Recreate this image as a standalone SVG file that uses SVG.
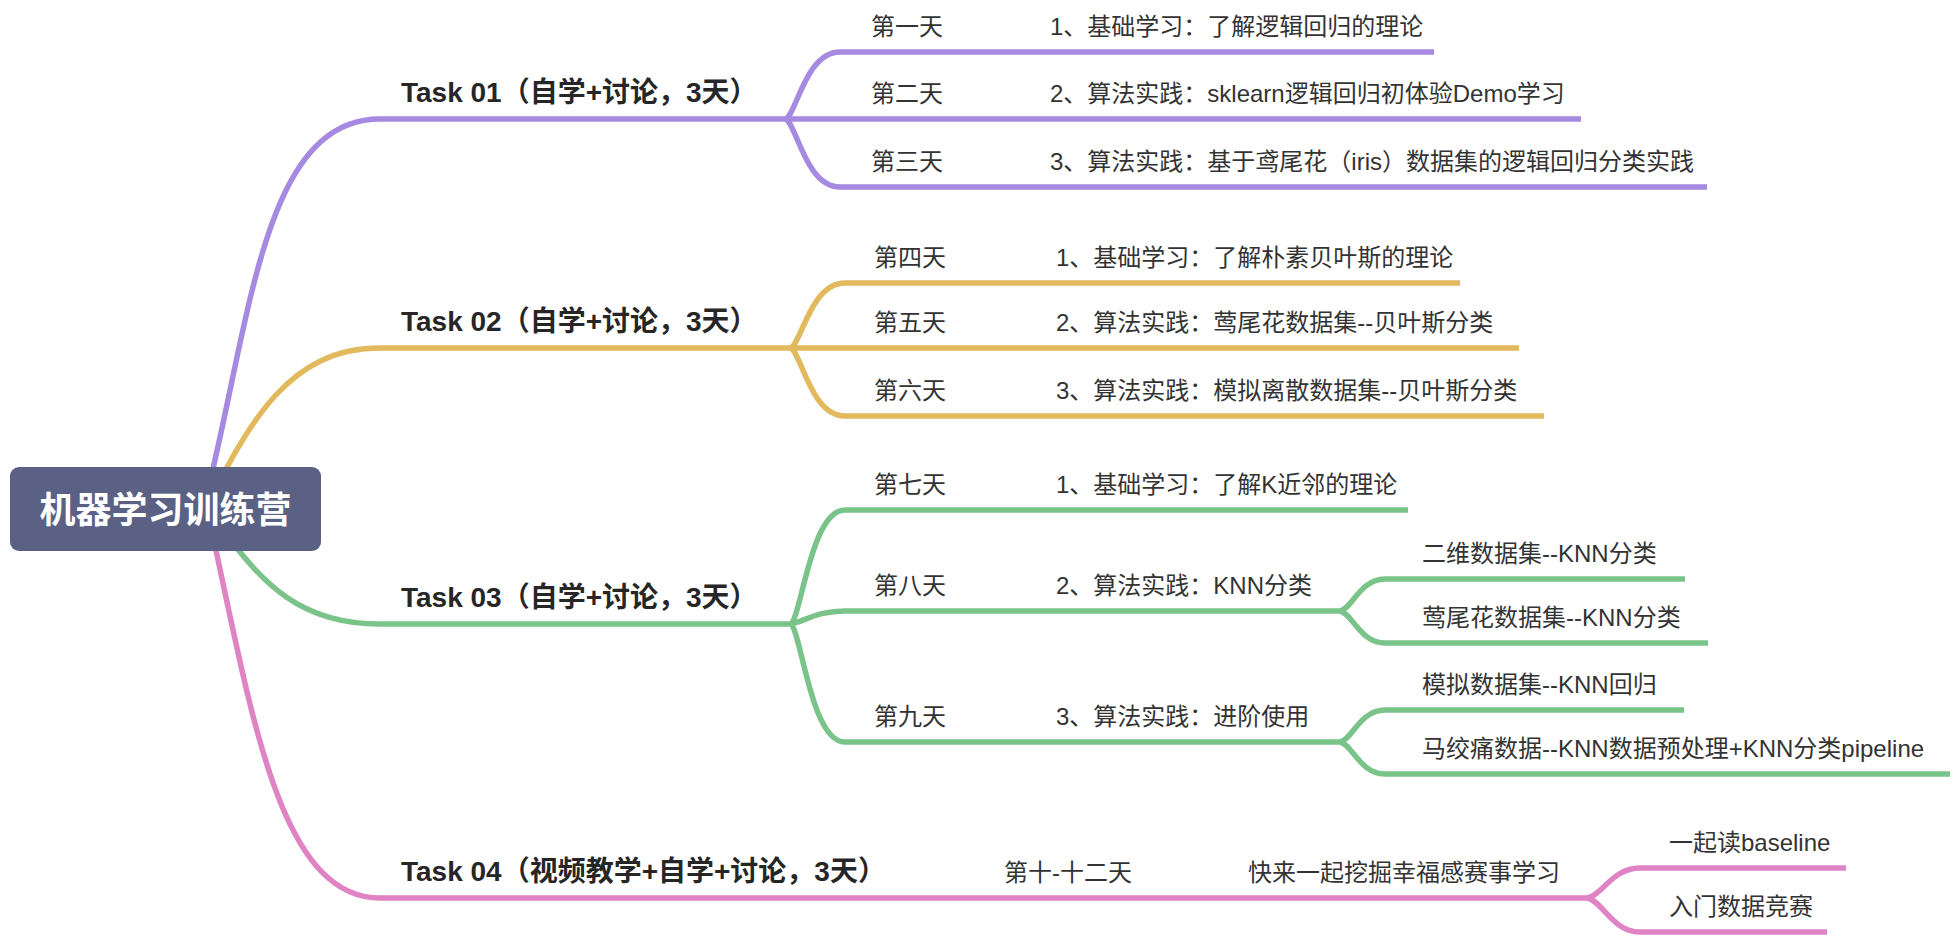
<svg xmlns="http://www.w3.org/2000/svg" width="1960" height="936" viewBox="0 0 1960 936">
<style>
text{font-family:"Liberation Sans","Noto Sans CJK SC",sans-serif;fill:#333}
.root{font-size:36px;font-weight:bold;fill:#fff}
.task{font-size:28px;font-weight:600;fill:#262626}
.n{font-size:24px}
.c{fill:none;stroke-width:5.5;stroke-linecap:butt}
.p{stroke:#a689e0}.y{stroke:#e2b95c}.g{stroke:#7bc489}.k{stroke:#e083c4}
</style>
<rect width="1960" height="936" fill="#fff"/>
<g id="connectors">
<path class="c p" d="M203,510 C250,330 260,119 380,119 H785"/>
<path class="c y" d="M205,510 C250,420 290,348 380,348 H790"/>
<path class="c g" d="M205,510 C250,560 280,624 380,624 H790"/>
<path class="c k" d="M205,500 C250,700 275,898 380,898 H1587"/>
<path class="c p" d="M785,119 C796,117 805,52 840,52 H1434"/>
<path class="c p" d="M785,119 H1581"/>
<path class="c p" d="M785,119 C796,121 805,187 840,187 H1707"/>
<path class="c y" d="M790,348 C801,346 810,283 845,283 H1460"/>
<path class="c y" d="M790,348 H1519"/>
<path class="c y" d="M790,348 C801,350 810,416 845,416 H1544"/>
<path class="c g" d="M790,624 C801,622 810,510 845,510 H1408"/>
<path class="c g" d="M790,624 C805,622 815,611 845,611 H1340"/>
<path class="c g" d="M790,624 C801,626 810,742 845,742 H1340"/>
<path class="c g" d="M1340,611 C1352,609 1360,579 1385,579 H1685"/>
<path class="c g" d="M1340,611 C1352,613 1360,643 1385,643 H1708"/>
<path class="c g" d="M1340,742 C1352,740 1360,710 1385,710 H1684"/>
<path class="c g" d="M1340,742 C1352,744 1360,774 1385,774 H1950"/>
<path class="c k" d="M1587,898 C1602,896 1612,868 1640,868 H1846"/>
<path class="c k" d="M1587,898 C1602,900 1612,932 1640,932 H1827"/>
</g>
<g id="root"><rect x="10" y="467" width="311" height="84" rx="9" fill="#5a6184"/><text class="root" x="165.5" y="523" text-anchor="middle">机器学习训练营</text></g>
<g id="task01"><text class="task" x="401" y="102">Task 01（自学+讨论，3天）</text></g>
<g id="task02"><text class="task" x="401" y="331">Task 02（自学+讨论，3天）</text></g>
<g id="task03"><text class="task" x="401" y="607">Task 03（自学+讨论，3天）</text></g>
<g id="task04"><text class="task" x="401" y="881">Task 04（视频教学+自学+讨论，3天）</text></g>
<g id="d1"><text class="n" x="871" y="35">第一天</text></g>
<g id="d1c"><text class="n" x="1050" y="35">1、基础学习：了解逻辑回归的理论</text></g>
<g id="d2"><text class="n" x="871" y="102">第二天</text></g>
<g id="d2c"><text class="n" x="1050" y="102">2、算法实践：sklearn逻辑回归初体验Demo学习</text></g>
<g id="d3"><text class="n" x="871" y="170">第三天</text></g>
<g id="d3c"><text class="n" x="1050" y="170">3、算法实践：基于鸢尾花（iris）数据集的逻辑回归分类实践</text></g>
<g id="d4"><text class="n" x="874" y="266">第四天</text></g>
<g id="d4c"><text class="n" x="1056" y="266">1、基础学习：了解朴素贝叶斯的理论</text></g>
<g id="d5"><text class="n" x="874" y="331">第五天</text></g>
<g id="d5c"><text class="n" x="1056" y="331">2、算法实践：莺尾花数据集--贝叶斯分类</text></g>
<g id="d6"><text class="n" x="874" y="399">第六天</text></g>
<g id="d6c"><text class="n" x="1056" y="399">3、算法实践：模拟离散数据集--贝叶斯分类</text></g>
<g id="d7"><text class="n" x="874" y="493">第七天</text></g>
<g id="d7c"><text class="n" x="1056" y="493">1、基础学习：了解K近邻的理论</text></g>
<g id="d8"><text class="n" x="874" y="594">第八天</text></g>
<g id="d8c"><text class="n" x="1056" y="594">2、算法实践：KNN分类</text></g>
<g id="d8a"><text class="n" x="1422" y="562">二维数据集--KNN分类</text></g>
<g id="d8b"><text class="n" x="1422" y="626">莺尾花数据集--KNN分类</text></g>
<g id="d9"><text class="n" x="874" y="725">第九天</text></g>
<g id="d9c"><text class="n" x="1056" y="725">3、算法实践：进阶使用</text></g>
<g id="d9a"><text class="n" x="1422" y="693">模拟数据集--KNN回归</text></g>
<g id="d9b"><text class="n" x="1422" y="757">马绞痛数据--KNN数据预处理+KNN分类pipeline</text></g>
<g id="d10"><text class="n" x="1004" y="881">第十-十二天</text></g>
<g id="d10c"><text class="n" x="1248" y="881">快来一起挖掘幸福感赛事学习</text></g>
<g id="d10a"><text class="n" x="1669" y="851">一起读baseline</text></g>
<g id="d10b"><text class="n" x="1669" y="915">入门数据竞赛</text></g>
</svg>
